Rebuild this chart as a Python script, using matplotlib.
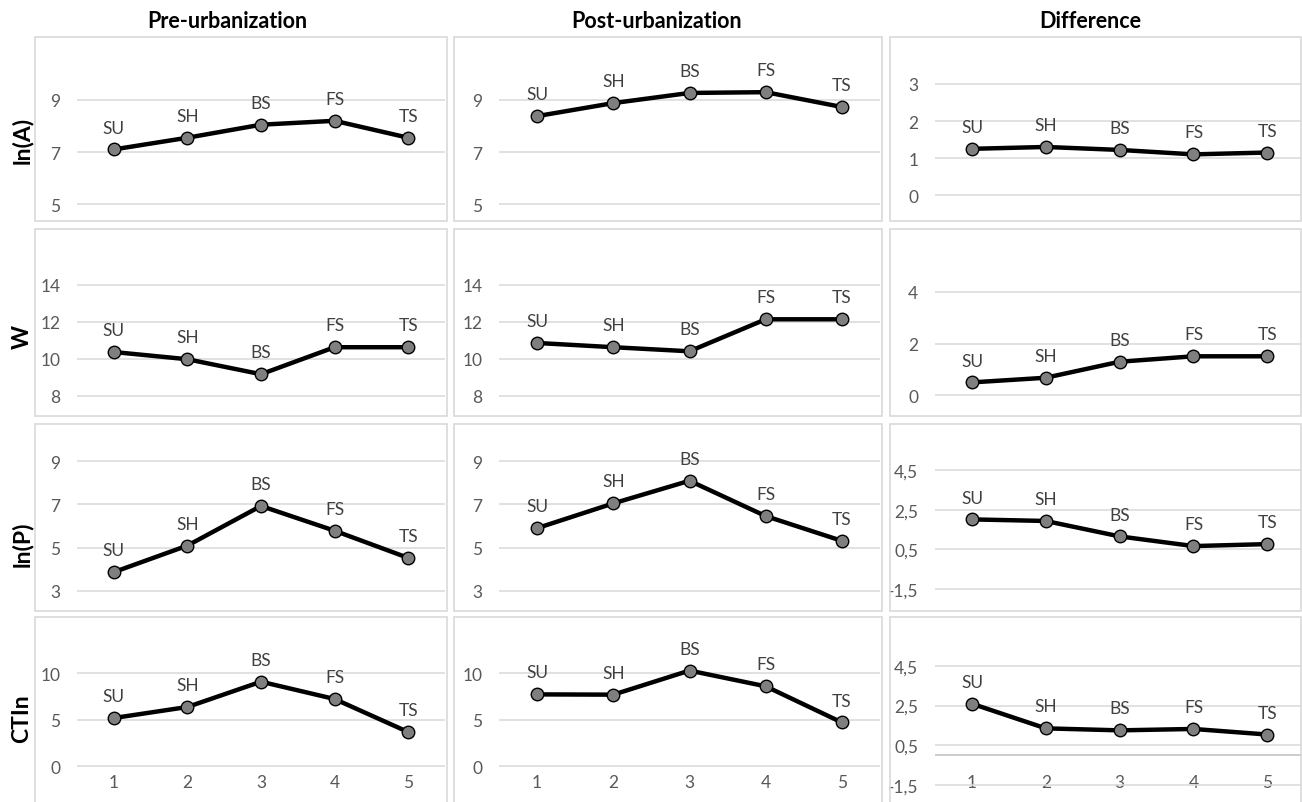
import matplotlib
matplotlib.use("Agg")
import matplotlib.pyplot as plt
from matplotlib.patches import Rectangle

plt.rcParams['font.family'] = ['Lato', 'DejaVu Sans']

# data
x = [1, 2, 3, 4, 5]
point_labels = ['SU', 'SH', 'BS', 'FS', 'TS']
col_titles = ['Pre-urbanization', 'Post-urbanization', 'Difference']
row_titles = ['ln(A)', 'W', 'ln(P)', 'CTIn']

pre_lnA = [7.1, 7.55, 8.05, 8.2, 7.55]
post_lnA = [8.38, 8.88, 9.27, 9.3, 8.73]
diff_lnA = [1.25, 1.3, 1.22, 1.1, 1.15]

pre_W = [10.36, 9.97, 9.16, 10.62, 10.62]
post_W = [10.85, 10.62, 10.4, 12.13, 12.13]
diff_W = [0.5, 0.68, 1.3, 1.51, 1.51]

pre_lnP = [3.86, 5.09, 6.93, 5.78, 4.52]
post_lnP = [5.9, 7.05, 8.1, 6.46, 5.31]
diff_lnP = [2.02, 1.94, 1.16, 0.67, 0.77]

pre_CTIn = [5.18, 6.37, 9.1, 7.23, 3.67]
post_CTIn = [7.73, 7.7, 10.3, 8.6, 4.7]
diff_CTIn = [2.59, 1.35, 1.25, 1.32, 1.04]

ticks_lnA = [5, 7, 9]
ticks_W = [8, 10, 12, 14]
ticks_lnP = [3, 5, 7, 9]
ticks_CTIn = [0, 5, 10]
ticks_dA = [0, 1, 2, 3]
ticks_dW = [0, 2, 4]
ticks_d = [-1.5, 0.5, 2.5, 4.5]
ticklabels_d = ['-1,5', '0,5', '2,5', '4,5']

series = [[pre_lnA, post_lnA, diff_lnA],
          [pre_W, post_W, diff_W],
          [pre_lnP, post_lnP, diff_lnP],
          [pre_CTIn, post_CTIn, diff_CTIn]]
yticks = [[ticks_lnA, ticks_lnA, ticks_dA],
          [ticks_W, ticks_W, ticks_dW],
          [ticks_lnP, ticks_lnP, ticks_d],
          [ticks_CTIn, ticks_CTIn, ticks_d]]

# layout (pixels)
W, H = 1302, 803
col_x = [(77, 445), (499, 880), (935, 1302)]
row_y = [(45, 215), (240, 410), (435, 605), (628, 803)]
box_x = [(35, 447), (454, 882), (890, 1301)]
box_y = [(38, 222), (230, 417), (425, 612), (618, 810)]
ylims = [[(4.62, 11.15), (4.62, 11.15), (-0.51, 4.08)],
         [(7.28, 16.47), (7.28, 16.47), (-0.53, 6.05)],
         [(2.38, 10.27), (2.38, 10.27), (-2.26, 6.34)],
         [(-3.88, 15.0), (-3.88, 15.0), (-2.355, 6.45)]]

fig = plt.figure(figsize=(W / 100, H / 100), dpi=100)

grid_c = '#d9d9d9'
tick_c = '#595959'

for r in range(4):
    for c in range(3):
        bx0, bx1 = box_x[c]
        by0, by1 = box_y[r]
        fig.add_artist(Rectangle((bx0 / W, 1 - by1 / H), (bx1 - bx0) / W, (by1 - by0) / H,
                                 transform=fig.transFigure, facecolor='none',
                                 edgecolor=grid_c, lw=1.2))
        x0, x1 = col_x[c]
        y0, y1 = row_y[r]
        ax = fig.add_axes([x0 / W, 1 - y1 / H, (x1 - x0) / W, (y1 - y0) / H])
        ax.patch.set_alpha(0)
        for s in ax.spines.values():
            s.set_visible(False)
        ax.set_xlim(0.5, 5.5 if c < 2 else 5.47)
        ax.set_ylim(*ylims[r][c])
        yt = yticks[r][c]
        ax.set_yticks(yt)
        if yt is ticks_d:
            ax.set_yticklabels(ticklabels_d)
        ax.grid(axis='y', color=grid_c, lw=1.1)
        ax.set_axisbelow(True)
        ax.tick_params(axis='y', length=0, pad=12, labelsize=12.5, labelcolor=tick_c)
        if r == 3:
            ax.set_xticks(x)
            ax.tick_params(axis='x', length=0, pad=-20, labelsize=12.5, labelcolor=tick_c)
            if c == 2:
                ax.axhline(0, color='#bfbfbf', lw=1.1, zorder=1)
        else:
            ax.set_xticks([])
        vals = series[r][c]
        ax.plot(x, vals, color='black', lw=3.2, marker='o', markersize=9,
                markerfacecolor='#7f7f7f', markeredgecolor='black',
                markeredgewidth=1.0, zorder=3)
        for xi, yi, lab in zip(x, vals, point_labels):
            ax.annotate(lab, (xi, yi), xytext=(0, 10), textcoords='offset points',
                        ha='center', va='bottom', fontsize=12.5, color='#404040')

col_cx = [227, 657, 1090]
for cx, t in zip(col_cx, col_titles):
    fig.text(cx / W, 1 - 22 / H, t, ha='center', va='center',
             fontsize=15.5, fontweight='bold', color='black')

row_cy = [140, 337, 544, 719]
for cy, t in zip(row_cy, row_titles):
    fig.text(22 / W, 1 - cy / H, t, ha='center', va='center', rotation=90,
             fontsize=16.5, fontweight='bold', color='black')

fig.savefig('out.png', dpi=100)
